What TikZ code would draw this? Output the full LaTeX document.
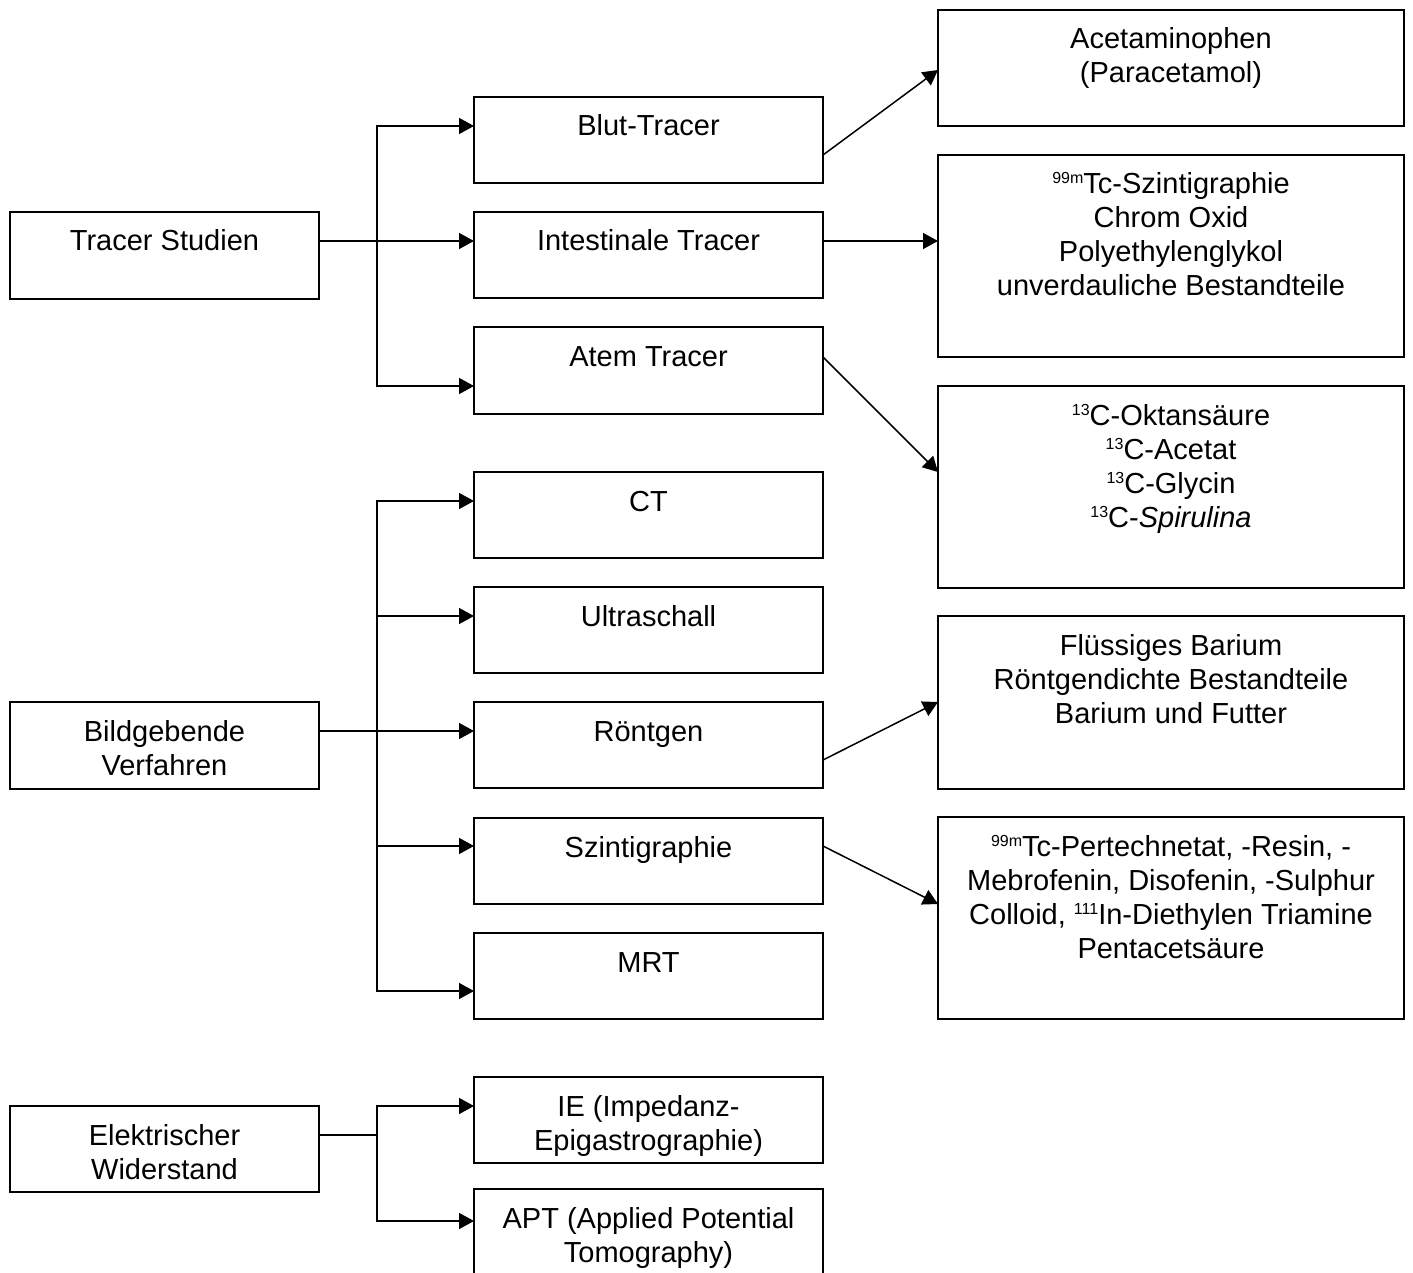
\documentclass[tikz,border=0pt]{standalone}
\usepackage{fontspec}
\setmainfont{Liberation Sans}
\usetikzlibrary{arrows.meta,calc}
\newcommand{\sps}[1]{\raisebox{5pt}{\fontsize{8}{8}\selectfont #1}}
\newcommand{\bxt}[3]{\parbox[t][#2][t]{#1}{\centering\rule{0pt}{19.5pt}#3\par}}
\begin{document}
\begin{tikzpicture}[x=0.5pt,y=-0.5pt,
  font=\fontsize{14.5}{17}\selectfont,
  bx/.style={draw, line width=1pt, inner sep=0pt, outer sep=0pt, anchor=north west},
  conn/.style={line width=0.75pt},
  arr/.style={conn, -{Triangle[length=7.5pt,width=8pt]}}]
\useasboundingbox (0,0) rectangle (1413,1273);
\clip (0,0) rectangle (1413,1273);
% left column
\node[bx] (ts) at (10,212) {\bxt{154.5pt}{43.5pt}{Tracer Studien}};
\node[bx] (bg) at (10,702) {\bxt{154.5pt}{43.5pt}{Bildgebende\\Verfahren}};
\node[bx] (ew) at (10,1106) {\bxt{154.5pt}{43pt}{Elektrischer\\Widerstand}};
% middle column
\node[bx] (bt) at (474,97) {\bxt{174.5pt}{43pt}{Blut-Tracer}};
\node[bx] (it) at (474,212) {\bxt{174.5pt}{43pt}{Intestinale Tracer}};
\node[bx] (at) at (474,327) {\bxt{174.5pt}{43.5pt}{Atem Tracer}};
\node[bx] (ct) at (474,472) {\bxt{174.5pt}{43pt}{CT}};
\node[bx] (us) at (474,587) {\bxt{174.5pt}{43pt}{Ultraschall}};
\node[bx] (rg) at (474,702) {\bxt{174.5pt}{43pt}{Röntgen}};
\node[bx] (sz) at (474,818) {\bxt{174.5pt}{43pt}{Szintigraphie}};
\node[bx] (mrt) at (474,933) {\bxt{174.5pt}{43pt}{MRT}};
\node[bx] (ie) at (474,1077) {\bxt{174.5pt}{43pt}{IE (Impedanz-\\Epigastrographie)}};
\node[bx] (apt) at (474,1189) {\bxt{174.5pt}{43pt}{APT (Applied Potential\\Tomography)}};
% right column
\node[bx] (ac) at (938,10) {\bxt{233pt}{58pt}{Acetaminophen\\(Paracetamol)}};
\node[bx] (tc) at (938,155) {\bxt{233pt}{101pt}{\sps{99m}Tc-Szintigraphie\\Chrom Oxid\\Polyethylenglykol\\unverdauliche Bestandteile}};
\node[bx] (c13) at (938,386) {\bxt{233pt}{101pt}{\sps{13}C-Oktansäure\\\sps{13}C-Acetat\\\sps{13}C-Glycin\\\sps{13}C-\textit{Spirulina}}};
\node[bx] (fb) at (938,616) {\bxt{233pt}{86.5pt}{Flüssiges Barium\\Röntgendichte Bestandteile\\Barium und Futter}};
\node[bx] (pt) at (938,817) {\bxt{233pt}{101pt}{\sps{99m}Tc-Pertechnetat, -Resin, -\\Mebrofenin, Disofenin, -Sulphur\\Colloid, \sps{111}In-Diethylen Triamine\\Pentacetsäure}};
% tracer group
\coordinate (tbus) at (377,241);
\draw[arr] ($(ts.north east)+(0,29)$) -- ($(it.north west)+(0,29)$);
\draw[arr] (tbus) |- ($(bt.north west)+(0,29)$);
\draw[arr] (tbus) |- ($(at.north west)+(0,59)$);
% imaging group
\coordinate (bbus) at (377,731);
\draw[arr] ($(bg.north east)+(0,29)$) -- ($(rg.north west)+(0,29)$);
\draw[arr] (bbus) |- ($(ct.north west)+(0,29)$);
\draw[arr] (bbus) |- ($(us.north west)+(0,29)$);
\draw[arr] (bbus) |- ($(sz.north west)+(0,28)$);
\draw[arr] (bbus) |- ($(mrt.north west)+(0,58)$);
% electrical group
\coordinate (ebus) at (377,1135);
\draw[conn] ($(ew.north east)+(0,29)$) -- (ebus);
\draw[arr] (ebus) |- ($(ie.north west)+(0,29)$);
\draw[arr] (ebus) |- ($(apt.north west)+(0,32)$);
% to right column
\draw[arr] ($(bt.north east)+(0,58)$) -- ($(ac.north west)+(0,60)$);
\draw[arr] ($(it.north east)+(0,29)$) -- ($(tc.north west)+(0,86)$);
\draw[arr] ($(at.north east)+(0,30)$) -- ($(c13.north west)+(0,86)$);
\draw[arr] ($(rg.north east)+(0,58)$) -- ($(fb.north west)+(0,86)$);
\draw[arr] ($(sz.north east)+(0,28)$) -- ($(pt.north west)+(0,87)$);
\end{tikzpicture}
\end{document}
